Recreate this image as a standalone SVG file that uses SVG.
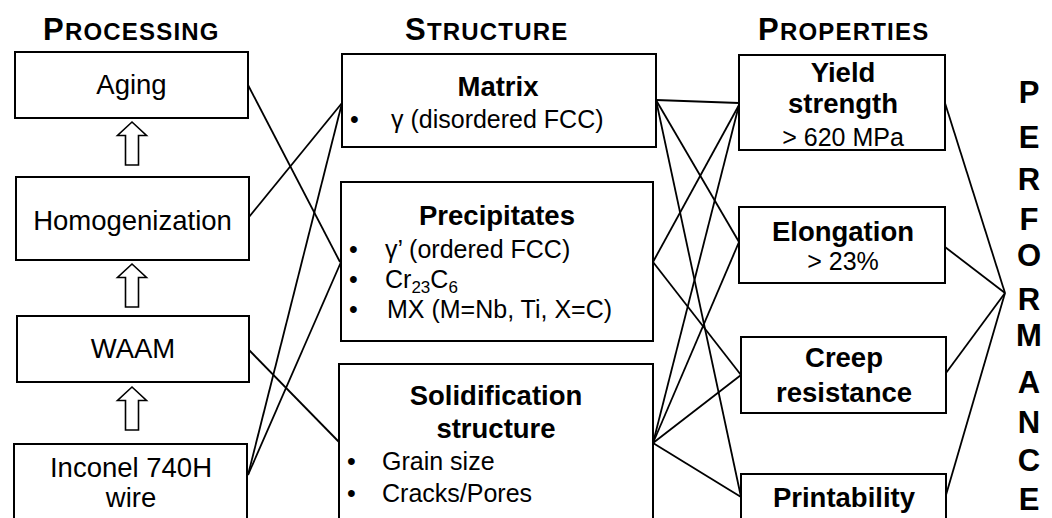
<svg xmlns="http://www.w3.org/2000/svg" width="1052" height="518" viewBox="0 0 1052 518">
  <style>
    text { font-family: "Liberation Sans", Arial, sans-serif; fill: #000; }
    .box { fill: #fff; stroke: #000; stroke-width: 2; }
    .lbl { font-size: 27.5px; text-anchor: middle; }
    .bold { font-size: 27.5px; font-weight: bold; text-anchor: middle; }
    .item { font-size: 25px; }
    .hdr { font-size: 24px; font-weight: bold; letter-spacing: 1.2px; }
    .cap { font-size: 31px; }
    .perf { font-size: 31px; font-weight: bold; text-anchor: middle; }
    .link { stroke: #000; stroke-width: 1.8; fill: none; }
    .uparrow { fill: #fff; stroke: #000; stroke-width: 1.6; }
  </style>
  <defs>
    <!-- hollow block arrow pointing up, tip at origin -->
    <path id="up" d="M0,0 L14.5,13.5 L6.5,13.5 L6.5,43 L-6.5,43 L-6.5,13.5 L-14.5,13.5 Z"/>
  </defs>

  <rect width="1052" height="518" fill="#fff"/>

  <!-- column headings -->
  <text class="hdr" x="43" y="40"><tspan class="cap">P</tspan>ROCESSING</text>
  <text class="hdr" x="405" y="40"><tspan class="cap">S</tspan>TRUCTURE</text>
  <text class="hdr" x="758" y="40"><tspan class="cap">P</tspan>ROPERTIES</text>

  <!-- connectors -->
  <g id="connectors" class="link">
    <line x1="248" y1="85" x2="340" y2="262"/>
    <line x1="249" y1="217" x2="342" y2="103"/>
    <line x1="249" y1="350" x2="339" y2="442"/>
    <line x1="248" y1="475" x2="342" y2="103"/>
    <line x1="248" y1="475" x2="341" y2="262"/>

    <line x1="656" y1="100" x2="739" y2="103"/>
    <line x1="656" y1="100" x2="739" y2="242"/>
    <line x1="656" y1="100" x2="741" y2="497"/>
    <line x1="653" y1="262" x2="739" y2="105"/>
    <line x1="653" y1="262" x2="741" y2="375"/>
    <line x1="653" y1="443" x2="739" y2="105"/>
    <line x1="653" y1="443" x2="739" y2="242"/>
    <line x1="653" y1="443" x2="741" y2="375"/>
    <line x1="653" y1="443" x2="741" y2="497"/>

    <line x1="945" y1="103" x2="1005" y2="293"/>
    <line x1="945" y1="247" x2="1005" y2="293"/>
    <line x1="946" y1="373" x2="1005" y2="293"/>
    <line x1="946" y1="495" x2="1005" y2="293"/>
  </g>

  <!-- processing route -->
  <g id="arrows" class="uparrow">
    <use href="#up" x="132" y="122"/>
    <use href="#up" x="132" y="264"/>
    <use href="#up" x="132" y="387"/>
  </g>

  <g id="aging">
    <rect class="box" x="15" y="52" width="233" height="66"/>
    <text class="lbl" x="131.5" y="94">Aging</text>
  </g>
  <g id="homogenization">
    <rect class="box" x="16" y="177" width="233" height="83"/>
    <text class="lbl" x="132.5" y="230">Homogenization</text>
  </g>
  <g id="waam">
    <rect class="box" x="17" y="316" width="232" height="66"/>
    <text class="lbl" x="133" y="358">WAAM</text>
  </g>
  <g id="wire">
    <rect class="box" x="14" y="444" width="233" height="90"/>
    <text class="lbl" x="131" y="477">Inconel 740H</text>
    <text class="lbl" x="131" y="507">wire</text>
  </g>

  <!-- structure -->
  <g id="matrix">
    <rect class="box" x="342" y="54" width="314" height="93"/>
    <text class="bold" x="498" y="96">Matrix</text>
    <text class="item" x="350" y="128">•</text>
    <text class="item" x="391" y="128">γ (disordered FCC)</text>
  </g>
  <g id="precipitates">
    <rect class="box" x="341" y="182" width="312" height="159"/>
    <text class="bold" x="497" y="225">Precipitates</text>
    <text class="item" x="349" y="258">•</text>
    <text class="item" x="385" y="258">γ’ (ordered FCC)</text>
    <text class="item" x="349" y="288">•</text>
    <text class="item" x="385" y="288">Cr<tspan font-size="17" dy="5">23</tspan><tspan dy="-5">C</tspan><tspan font-size="17" dy="5">6</tspan></text>
    <text class="item" x="349" y="318">•</text>
    <text class="item" x="387" y="318">MX (M=Nb, Ti, X=C)</text>
  </g>
  <g id="solidification">
    <rect class="box" x="339" y="364" width="314" height="170"/>
    <text class="bold" x="496" y="405">Solidification</text>
    <text class="bold" x="496" y="438">structure</text>
    <text class="item" x="347" y="470">•</text>
    <text class="item" x="382" y="470">Grain size</text>
    <text class="item" x="347" y="502">•</text>
    <text class="item" x="382" y="502">Cracks/Pores</text>
  </g>

  <!-- properties -->
  <g id="yield">
    <rect class="box" x="739" y="55" width="206" height="95"/>
    <text class="bold" x="843" y="82">Yield</text>
    <text class="bold" x="843" y="113">strength</text>
    <text class="item" x="843" y="146" text-anchor="middle">&gt; 620 MPa</text>
  </g>
  <g id="elongation">
    <rect class="box" x="739" y="207" width="206" height="76"/>
    <text class="bold" x="843" y="241">Elongation</text>
    <text class="item" x="843" y="270" text-anchor="middle">&gt; 23%</text>
  </g>
  <g id="creep">
    <rect class="box" x="741" y="337" width="205" height="76"/>
    <text class="bold" x="844" y="367">Creep</text>
    <text class="bold" x="844" y="402">resistance</text>
  </g>
  <g id="printability">
    <rect class="box" x="741" y="474" width="205" height="60"/>
    <text class="bold" x="844" y="507">Printability</text>
  </g>

  <!-- performance -->
  <g id="performance">
    <text class="perf" x="1029" y="103">P</text>
    <text class="perf" x="1029" y="148">E</text>
    <text class="perf" x="1029" y="190">R</text>
    <text class="perf" x="1029" y="230">F</text>
    <text class="perf" x="1029" y="266">O</text>
    <text class="perf" x="1029" y="310">R</text>
    <text class="perf" x="1029" y="346">M</text>
    <text class="perf" x="1029" y="393">A</text>
    <text class="perf" x="1029" y="433">N</text>
    <text class="perf" x="1029" y="471">C</text>
    <text class="perf" x="1029" y="510">E</text>
  </g>
</svg>
